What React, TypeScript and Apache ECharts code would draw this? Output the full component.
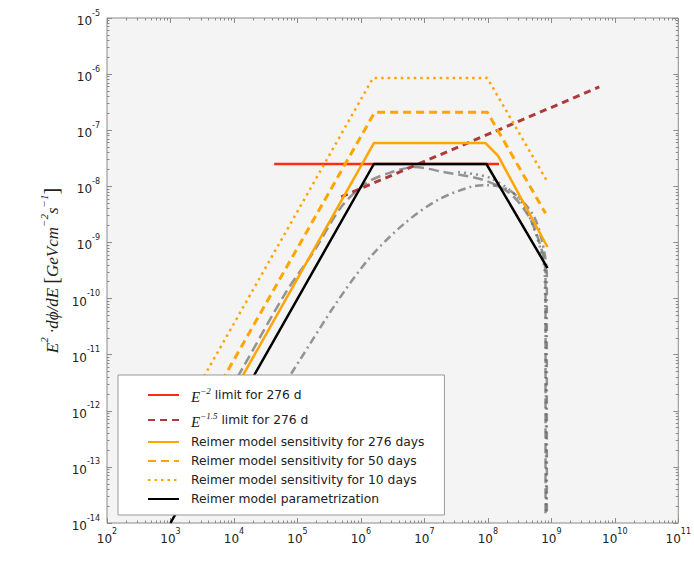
import React, { useEffect, useRef } from "react";
import * as echarts from "echarts";

// ---- tick decades ----
const xDecades = [2, 3, 4, 5, 6, 7, 8, 9, 10, 11];
const yDecades = [-14, -13, -12, -11, -10, -9, -8, -7, -6, -5];

// ---- series names ----
const names = [
  "E-2 limit for 276 d",
  "E-1.5 limit for 276 d",
  "Reimer model sensitivity for 276 days",
  "Reimer model sensitivity for 50 days",
  "Reimer model sensitivity for 10 days",
  "Reimer model parametrization",
];

// ---- data: [E (GeV), E^2 dphi/dE] ----
const redLimit = [[4.3e4, 2.5e-8], [1.5e8, 2.5e-8]];
const brownLimit = [[4.9e5, 6.5e-9], [5.7e9, 5.9e-7]];
const reimer276 = [[3.8e3, 3.2e-13], [1.6e6, 5.9e-8], [9.2e7, 5.9e-8], [1.45e8, 3.5e-8], [8.7e8, 8.3e-10]];
const reimer50 = [[2.0e3, 3.3e-13], [1.65e6, 2.1e-7], [9.8e7, 2.1e-7], [8.1e8, 3.3e-9]];
const reimer10 = [[9.4e2, 3.2e-13], [1.55e6, 8.5e-7], [9.8e7, 8.5e-7], [8.7e8, 1.2e-8]];
const reimerParam = [[1.0e3, 1.0e-14], [1.6e6, 2.5e-8], [9.5e7, 2.5e-8], [8.7e8, 3.5e-10]];

// background (grey) model curves
const greyDashed = [
  [5.0e3, 8e-13], [1.4e4, 6.0e-12], [6.5e4, 1.26e-10], [1.86e5, 7.2e-10], [4.9e5, 4.3e-9],
  [1.23e6, 1.15e-8], [2.8e6, 1.74e-8], [7.1e6, 2.2e-8], [2.0e7, 1.8e-8], [8.5e7, 1.3e-8],
  [2.2e8, 7.6e-9], [4.5e8, 2.8e-9], [7.1e8, 7.2e-10], [8.1e8, 2.8e-10], [8.1e8, 1.4e-14],
];
const greyDashDot = [
  [5.6e4, 2.45e-12], [1.02e5, 7.1e-12], [4.2e5, 8.7e-11], [1.41e6, 5.5e-10], [5.0e6, 2.24e-9],
  [1.66e7, 5.8e-9], [5.4e7, 9.8e-9], [9.8e7, 1.05e-8], [2.2e8, 8.5e-9], [5.0e8, 3.3e-9],
  [7.1e8, 1.1e-9], [8.5e8, 2.6e-10], [8.5e8, 1.4e-14],
];
const greyDotted = [
  [3.4e7, 1.8e-8], [1.1e8, 1.4e-8], [3.2e8, 5.8e-9], [5.8e8, 1.35e-9], [7.9e8, 2.6e-10], [8.3e8, 1.5e-14],
];

const pow10 = (d: number) => Number("1e" + d);
const majorX = xDecades.map(pow10);
const majorY = yDecades.map(pow10);
const minors = (decs: number[]) => {
  const out: number[] = [];
  for (let i = 0; i < decs.length - 1; i++) {
    for (let m = 2; m <= 9; m++) out.push(m * pow10(decs[i]));
  }
  return out;
};
const minorX = minors(xDecades);
const minorY = minors(yDecades);

const TICK = "#8a8a8a";
const labelRich = {
  b: { fontFamily: "DejaVu Sans", fontSize: 12, color: "#222", lineHeight: 18, verticalAlign: "bottom" },
  s: { fontFamily: "DejaVu Sans", fontSize: 8, color: "#222", lineHeight: 18, verticalAlign: "top" },
};
const expFmt = (v: number) => "{b|10}{s|" + Math.round(Math.log10(v)) + "}";

function makeX(values: number[], len: number, pos: string, labels: boolean) {
  return {
    type: "log",
    logBase: 10,
    min: 1e2,
    max: 1e11,
    position: pos,
    axisLine: { show: false },
    splitLine: { show: false },
    axisTick: { show: true, inside: true, length: len, customValues: values, lineStyle: { color: TICK } },
    axisLabel: labels
      ? { show: true, customValues: values, formatter: expFmt, rich: labelRich, margin: 4 }
      : { show: false },
  };
}
function makeY(values: number[], len: number, pos: string, labels: boolean) {
  return {
    type: "log",
    logBase: 10,
    min: 1e-14,
    max: 1e-5,
    position: pos,
    axisLine: { show: false },
    splitLine: { show: false },
    axisTick: { show: true, inside: true, length: len, customValues: values, lineStyle: { color: TICK } },
    axisLabel: labels
      ? { show: true, customValues: values, formatter: expFmt, rich: labelRich, margin: 7 }
      : { show: false },
  };
}

const legendRich = {
  e: { fontFamily: "Liberation Serif", fontStyle: "italic", fontSize: 15, color: "#222", lineHeight: 18, verticalAlign: "bottom", padding: [0, 0, 0, 7] },
  sp: { fontFamily: "Liberation Serif", fontStyle: "italic", fontSize: 9, color: "#222", lineHeight: 18, verticalAlign: "top" },
  t: { fontFamily: "DejaVu Sans", fontSize: 12.3, color: "#222", lineHeight: 14, verticalAlign: "middle" },
  t0: { fontFamily: "DejaVu Sans", fontSize: 12.3, color: "#222", lineHeight: 14, verticalAlign: "middle", padding: [0, 0, 0, 7] },
};

export default function App() {
  const ref = useRef<HTMLDivElement>(null);
  useEffect(() => {
    if (!ref.current) return;
    const chart = echarts.init(ref.current, null, { renderer: "svg" });
    const line = (name: string, data: number[][], color: string, width: number, type: any, extra: any = {}) => ({
      type: "line",
      name,
      data,
      symbol: "none",
      xAxisIndex: 0,
      yAxisIndex: 0,
      lineStyle: { color, width, type },
      itemStyle: { color, opacity: 0 },
      silent: true,
      ...extra,
    });
    const grey = "rgba(105,105,105,0.7)";
    chart.setOption({
      animation: false,
      backgroundColor: "#fff",
      grid: {
        left: 107,
        right: 1,
        top: 18,
        bottom: 58,
        show: true,
        backgroundColor: "#f4f4f4",
        borderColor: "#8a8a8a",
        borderWidth: 1,
      },
      xAxis: [
        makeX(majorX, 5, "bottom", true),
        makeX(minorX, 2.5, "bottom", false),
        makeX(majorX, 5, "top", false),
        makeX(minorX, 2.5, "top", false),
      ],
      yAxis: [
        {
          ...makeY(majorY, 5, "left", true),
          name: "{i|E}{sp|2}{i| ·dϕ/dE }{br|[}{i|GeVcm}{sp|−2}{i|s}{sp|−1}{br|]}",
          nameLocation: "middle",
          nameGap: 30,
          nameRotate: 90,
          nameTextStyle: {
            rich: {
              i: { fontFamily: "Liberation Serif", fontStyle: "italic", fontSize: 17, color: "#222", lineHeight: 22, verticalAlign: "bottom" },
              sp: { fontFamily: "Liberation Serif", fontStyle: "italic", fontSize: 11, color: "#222", lineHeight: 22, verticalAlign: "top" },
              br: { fontFamily: "Liberation Serif", fontSize: 20, color: "#222", lineHeight: 22, verticalAlign: "bottom" },
            },
          },
        },
        makeY(minorY, 2.5, "left", false),
        makeY(majorY, 5, "right", false),
        makeY(minorY, 2.5, "right", false),
      ],
      legend: {
        data: names,
        orient: "vertical",
        left: 118,
        top: 375,
        itemWidth: 31,
        itemHeight: 14,
        itemGap: 7,
        padding: [11, 20, 10, 29],
        backgroundColor: "#fff",
        borderColor: "#999",
        borderWidth: 1,
        borderRadius: 0,
        selectedMode: false,
        itemStyle: { opacity: 0 },
        textStyle: { rich: legendRich, fontFamily: "DejaVu Sans", fontSize: 12, color: "#222" },
        formatter: (n: string) => {
          if (n === names[0]) return "{e|E}{sp|−2}{t| limit for 276 d}";
          if (n === names[1]) return "{e|E}{sp|−1.5}{t| limit for 276 d}";
          return "{t0|" + n + "}";
        },
      },
      series: [
        line("bg1", greyDashed, grey, 2.5, [10, 5], { smooth: 0.3 }),
        line("bg2", greyDashDot, grey, 2.5, [8, 4, 2, 4], { smooth: 0.3 }),
        line("bg3", greyDotted, grey, 2.5, [2, 4], { smooth: 0.3 }),
        line(names[0], redLimit, "#ff2a14", 2.5, "solid"),
        line(names[1], brownLimit, "#b03a3a", 3, [7, 5]),
        line(names[2], reimer276, "#ffa500", 2.5, "solid"),
        line(names[3], reimer50, "#ffa500", 3, [8, 5]),
        line(names[4], reimer10, "#ffa500", 2.5, [2.5, 4]),
        line(names[5], reimerParam, "#000000", 2.5, "solid"),
      ],
    });
    return () => chart.dispose();
  }, []);
  return (
    <div
      ref={ref}
      style={{ position: "absolute", left: 0, top: 0, width: 694, height: 581 }}
    />
  );
}
